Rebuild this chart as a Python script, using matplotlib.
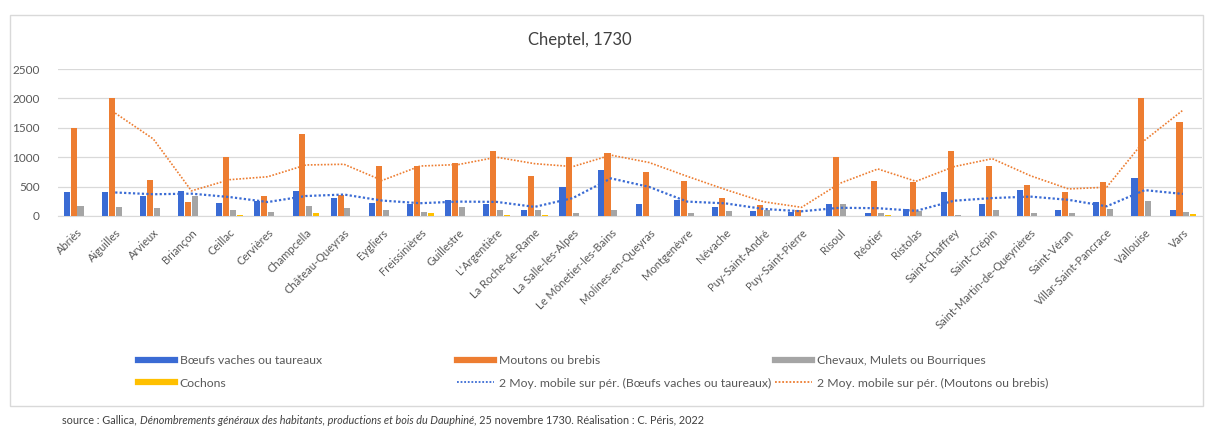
# Cheptel 1730 - bar chart with 2-period moving averages

import numpy as np
import pandas as pd
import matplotlib
matplotlib.use('Agg')
import matplotlib.pyplot as plt
from matplotlib.lines import Line2D
from matplotlib.patches import Rectangle

communes = ['Abriès', 'Aiguilles', 'Arvieux', 'Briançon', 'Ceillac', 'Cervières',
            'Champcella', 'Château-Queyras', 'Eygliers', 'Freissinières', 'Guillestre',
            "L'Argentière", 'La Roche-de-Rame', 'La Salle-les-Alpes', 'Le Mônetier-les-Bains',
            'Molines-en-Queyras', 'Montgenèvre', 'Névache', 'Puy-Saint-André',
            'Puy-Saint-Pierre', 'Risoul', 'Réotier', 'Ristolas', 'Saint-Chaffrey',
            'Saint-Crépin', 'Saint-Martin-de-Queyrières', 'Saint-Véran',
            'Villar-Saint-Pancrace', 'Vallouise', 'Vars']

boeufs = [400, 400, 340, 420, 225, 250, 430, 300, 225, 210, 280, 200, 110, 500, 780,
          210, 280, 150, 90, 70, 210, 55, 120, 400, 210, 450, 100, 230, 650, 100]
moutons = [1500, 2000, 620, 235, 1000, 335, 1400, 360, 850, 850, 900, 1100, 680, 1000, 1070,
           750, 600, 300, 185, 110, 1000, 600, 580, 1100, 850, 520, 400, 580, 2000, 1600]
chevaux = [170, 150, 140, 340, 95, 70, 170, 140, 95, 75, 155, 110, 95, 45, 110,
           0, 45, 85, 110, 0, 200, 55, 85, 15, 100, 55, 55, 120, 260, 75]
cochons = [0, 0, 0, 0, 10, 0, 55, 0, 5, 45, 5, 15, 10, 0, 0,
           0, 0, 0, 0, 0, 0, 15, 0, 0, 5, 0, 0, 0, 0, 40]

blue = '#3A6BD4'
orange = '#ED7D31'
gray = '#A5A5A5'
yellow = '#FFC000'
txt = '#595959'

plt.rcParams['font.family'] = ['Lato', 'DejaVu Sans']

fig = plt.figure(figsize=(12.05, 4.26), dpi=100)
fig.patches.append(Rectangle((10/1205, 1-406/426), 1193/1205, 391/426, transform=fig.transFigure,
                             fill=False, edgecolor='#d9d9d9', lw=1, zorder=0))

ax = fig.add_axes([58/1205, 1-216/426, 1144/1205, 147/426])
x = np.arange(len(communes))
w = 0.16
ax.bar(x - 0.27, boeufs, w, color=blue, zorder=3)
ax.bar(x - 0.09, moutons, w, color=orange, zorder=3)
ax.bar(x + 0.09, chevaux, w, color=gray, zorder=3)
ax.bar(x + 0.27, cochons, w, color=yellow, zorder=3)

ma_b = pd.Series(boeufs).rolling(2).mean()
ma_m = pd.Series(moutons).rolling(2).mean()
ax.plot(x, ma_b, color=blue, ls=(0, (1, 1)), lw=1.6, zorder=4)
ax.plot(x, ma_m, color=orange, ls=(0, (1, 1)), lw=1.2, zorder=4)

ax.set_xlim(-0.5, len(communes) - 0.5)
ax.set_ylim(0, 2500)
ax.set_yticks(range(0, 2501, 500))
ax.yaxis.grid(True, color='#d9d9d9', lw=0.9, zorder=0)
ax.set_xticks(x)
ax.set_xticklabels(communes, rotation=45, ha='right', rotation_mode='anchor',
                   fontsize=8, color=txt)
ax.tick_params(axis='y', labelsize=8.5, labelcolor=txt, length=0, pad=13)
ax.tick_params(axis='x', length=0, pad=8)
for s in ['top', 'right', 'left']:
    ax.spines[s].set_visible(False)
ax.spines['bottom'].set_color('#d9d9d9')

fig.text(580/1205, 1-40/426, 'Cheptel, 1730', ha='center', va='center',
         fontsize=12, color='#404040')

# legend, three columns
cols = [
    (138, [Line2D([], [], color=blue, lw=4.5), Line2D([], [], color=yellow, lw=4.5)],
     ['Bœufs vaches ou taureaux', 'Cochons']),
    (457, [Line2D([], [], color=orange, lw=4.5), Line2D([], [], color=blue, ls=(0, (1, 1)), lw=1.3)],
     ['Moutons ou brebis', '2 Moy. mobile sur pér. (Bœufs vaches ou taureaux)']),
    (775, [Line2D([], [], color=gray, lw=4.5), Line2D([], [], color=orange, ls=(0, (1, 1)), lw=1.3)],
     ['Chevaux, Mulets ou Bourriques', '2 Moy. mobile sur pér. (Moutons ou brebis)']),
]
for xpos, hs, ls in cols:
    fig.legend(hs, ls, loc='upper left', bbox_to_anchor=(xpos/1205, 1-355/426),
               frameon=False, fontsize=8.8, labelcolor=txt, handlelength=3.0,
               handletextpad=0.4, labelspacing=0.95, borderpad=0, borderaxespad=0)

# source line with italic part
fig.canvas.draw()
r = fig.canvas.get_renderer()
parts = [('source : Gallica, ', 'normal'),
         ('Dénombrements généraux des habitants, productions et bois du Dauphiné', 'italic'),
         (', 25 novembre 1730. Réalisation : C. Péris, 2022', 'normal')]
xp = 62/1205
for s, st in parts:
    t = fig.text(xp, 6/426, s, fontsize=7.8, style=st, color='#404040', va='center')
    bb = t.get_window_extent(renderer=r)
    xp += bb.width / fig.bbox.width

fig.savefig('out.png', dpi=100)
